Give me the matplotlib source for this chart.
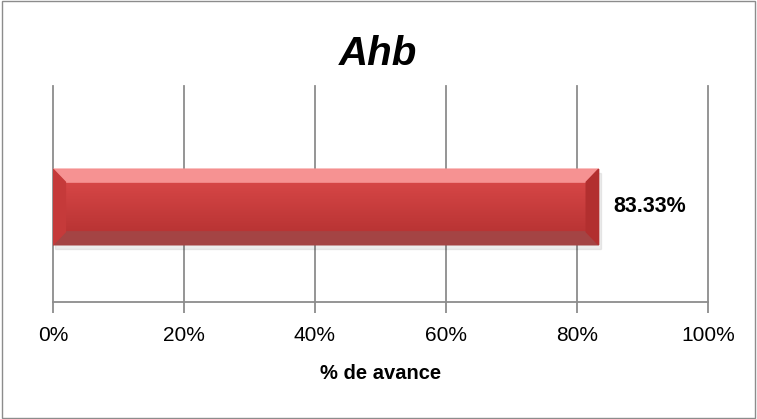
import numpy as np
import matplotlib
matplotlib.use("Agg")
import matplotlib.pyplot as plt
from matplotlib.patches import Polygon, Rectangle
from matplotlib.colors import LinearSegmentedColormap

# Data
categories = ["Ahb"]
values = [83.33]
ticks = [0, 20, 40, 60, 80, 100]
tick_labels = ["0%", "20%", "40%", "60%", "80%", "100%"]

plt.rcParams["font.family"] = ["Liberation Sans", "DejaVu Sans"]

fig = plt.figure(figsize=(7.57, 4.19), dpi=100)
ax = fig.add_axes([0.070, 0.279, 0.865, 0.516])

# figure border
fig.patches.append(Rectangle((0.002, 0.003), 0.996, 0.994, transform=fig.transFigure,
                             fill=False, edgecolor="#8c8c8c", linewidth=1))

h = 0.35
y0 = 0.0
bx = 1.9   # bevel width in data units (x)
by = 0.06  # bevel height in data units (y)

for cat, v in zip(categories, values):
    # base bar and soft shadow
    ax.barh(y0, v, height=h, color="#c93c3c", zorder=2)
    ax.add_patch(Rectangle((0.3, y0 - h / 2 - 0.02), v, h, color="#000000", alpha=0.07, zorder=1))
    # gradient face
    grad = LinearSegmentedColormap.from_list("face", ["#b93434", "#d64646"])
    ax.imshow(np.linspace(0, 1, 50).reshape(-1, 1), cmap=grad, aspect="auto",
              extent=(bx, v - bx, y0 - h / 2 + by, y0 + h / 2 - by),
              origin="lower", zorder=3)
    l, r, b, t = 0, v, y0 - h / 2, y0 + h / 2
    top = Polygon([(l, t), (r, t), (r - bx, t - by), (l + bx, t - by)], color="#f69292", zorder=4)
    bottom = Polygon([(l, b), (r, b), (r - bx, b + by), (l + bx, b + by)], color="#a44444", zorder=4)
    left = Polygon([(l, b), (l, t), (l + bx, t - by), (l + bx, b + by)], color="#c53a3a", zorder=4)
    right = Polygon([(r, b), (r, t), (r - bx, t - by), (r - bx, b + by)], color="#b22f2f", zorder=4)
    for p in (top, bottom, left, right):
        ax.add_patch(p)
    ax.text(v + 2.3, y0 - 0.0, f"{v:.2f}%", va="center", ha="left",
            fontsize=15.5, fontweight="bold", color="black", zorder=5)

ax.set_xlim(0, 100)
ax.set_ylim(-0.44, 0.56)
ax.set_xticks(ticks)
ax.set_xticklabels(tick_labels, fontsize=15)
ax.set_yticks([])
ax.grid(axis="x", color="#8c8c8c", linewidth=1.3, zorder=0)
for gl in ax.get_xgridlines():
    gl.set_clip_on(False)
ax.set_axisbelow(True)
for s in ("top", "right", "left"):
    ax.spines[s].set_visible(False)
ax.spines["bottom"].set_color("#8c8c8c")
ax.spines["bottom"].set_linewidth(1.3)
ax.tick_params(axis="x", direction="out", length=8, width=1.3, color="#8c8c8c", pad=9)
ax.set_xlabel("% de avance", fontsize=14.5, fontweight="bold", labelpad=14)
fig.text(0.5, 0.87, categories[0], ha="center", va="center", fontsize=29,
         fontweight="bold", style="italic")

fig.savefig("out.png", dpi=100)
